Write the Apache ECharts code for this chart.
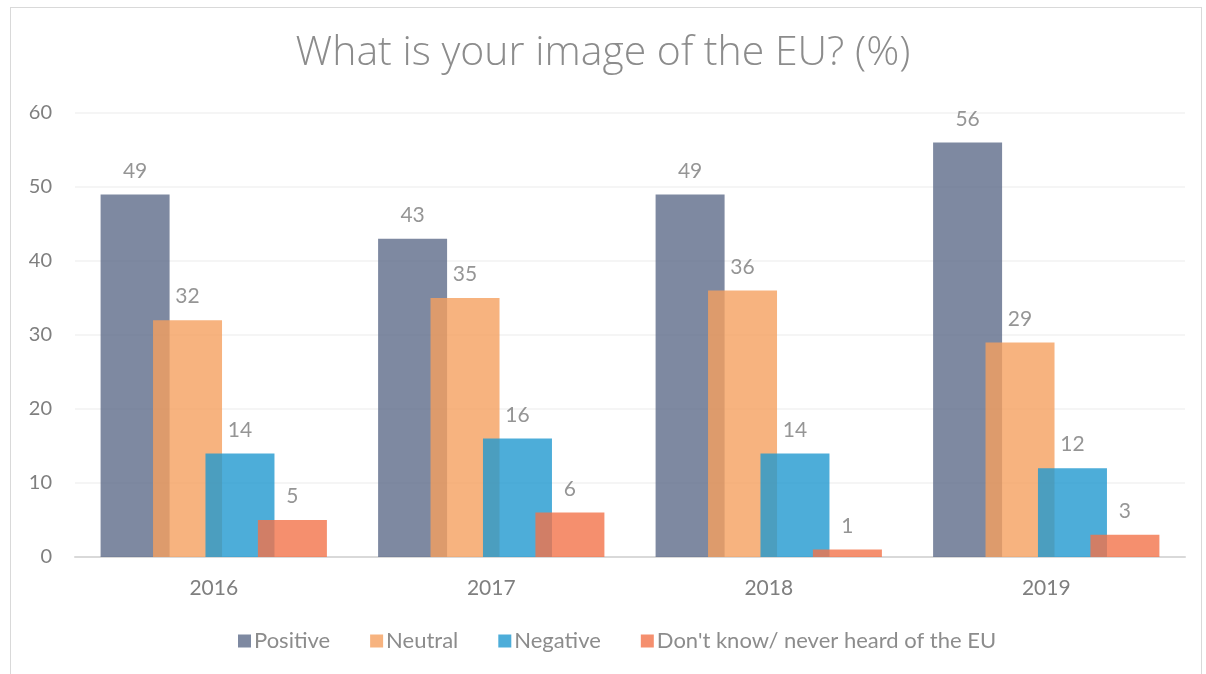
<!DOCTYPE html>
<html><head><meta charset="utf-8">
<script src="https://cdn.jsdelivr.net/npm/echarts@6/dist/echarts.min.js"></script>
<style>
html,body{margin:0;padding:0;background:#fff;}
#frame{position:absolute;left:10px;top:7px;width:1192px;height:680px;border:1px solid #d9d9d9;box-sizing:border-box;}
#c{position:absolute;left:0;top:0;width:1206px;height:674px;}
</style></head>
<body>
<div id="frame"></div>
<div id="c"></div>
<script>
const categories = ['2016','2017','2018','2019'];
const seriesNames = ['Positive','Neutral','Negative',"Don't know/ never heard of the EU"];
const positive = [49,43,49,56];
const neutral = [32,35,36,29];
const negative = [14,16,14,12];
const dontKnow = [5,6,1,3];
const yTicks = [0,10,20,30,40,50,60];

const colors = ['#5e6b89','#f5a05f','#2198cf','#f2734a'];
const values = [positive, neutral, negative, dontKnow];
const chart = echarts.init(document.getElementById('c'));
chart.setOption({
  animation:false,
  title:{text:'What is your image of the EU? (%)',left:'center',top:28,
    textStyle:{fontFamily:'Open Sans',fontWeight:300,fontSize:41,color:'#8c8c8c'}},
  legend:{bottom:17,left:233,itemWidth:13,itemHeight:13,itemGap:40,icon:'rect',
    textStyle:{fontFamily:'Lato',fontSize:22,color:'#8c8c8c',padding:[0,0,0,-2]},
    data:seriesNames},
  grid:{left:75,right:21,top:113,bottom:117},
  xAxis:{type:'category',data:categories,
    axisLine:{lineStyle:{color:'#d9d9d9',width:2}},axisTick:{show:false},
    axisLabel:{fontFamily:'Lato',fontSize:21,color:'#7f7f7f',margin:21}},
  yAxis:{type:'value',min:0,max:60,interval:10,
    axisLine:{show:false},axisTick:{show:false},
    splitLine:{lineStyle:{color:'#f2f2f2',width:1.5}},
    axisLabel:{fontFamily:'Lato',fontSize:20,color:'#7f7f7f',margin:23}},
  series: seriesNames.map((n,i)=>({
    name:n,type:'bar',data:values[i],barWidth:69,barGap:'-24%',
    itemStyle:{color:colors[i],opacity:0.8},
    label:{show:true,position:'top',distance:13,fontFamily:'Lato',fontSize:21,color:'#7a7a7a'}
  }))
});
</script>
</body></html>
